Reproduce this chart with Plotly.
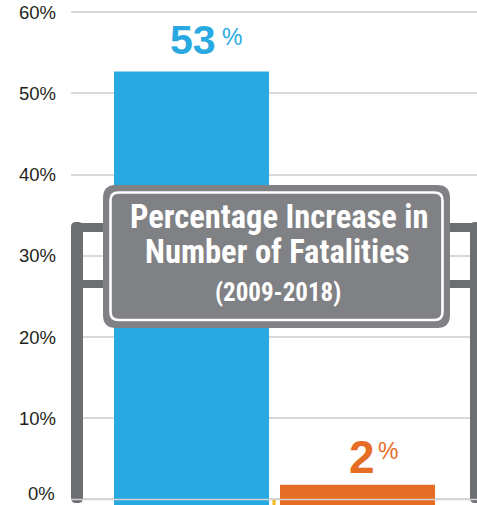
import plotly.graph_objects as go

# ---- data ----
categories = ["Pedestrian Fatalities", "All Other Traffic Fatalities"]
values = [52.7, 1.8]
value_labels = ["53", "2"]
bar_colors = ["#29a9e1", "#e56d24"]
y_ticks = [0, 10, 20, 30, 40, 50, 60]
sign_lines = ["Percentage Increase in", "Number of Fatalities", "(2009-2018)"]

# ---- geometry helpers (pixels -> paper) ----
FW, FH = 477, 505
ML, MR, MT, MB = 71, 0, 0, 0
PW, PH = FW - ML - MR, FH - MT - MB


def px(x):
    return (x - ML) / PW


def py(y):
    return 1 - (y - MT) / PH


def rrect_path(x0, y0, x1, y1, r):
    pts = [
        ("M", (x0 + r, y0)),
        ("L", (x1 - r, y0)),
        ("Q", (x1, y0), (x1, y0 + r)),
        ("L", (x1, y1 - r)),
        ("Q", (x1, y1), (x1 - r, y1)),
        ("L", (x0 + r, y1)),
        ("Q", (x0, y1), (x0, y1 - r)),
        ("L", (x0, y0 + r)),
        ("Q", (x0, y0), (x0 + r, y0)),
    ]
    s = []
    for p in pts:
        cmd = p[0]
        coords = " ".join(f"{px(a):.5f},{py(b):.5f}" for a, b in p[1:])
        s.append(f"{cmd}{coords}")
    return " ".join(s) + " Z"


BASE = -1.0
fig = go.Figure()
fig.add_trace(go.Bar(
    x=categories,
    y=[v - BASE for v in values],
    base=BASE,
    marker=dict(color=bar_colors, line=dict(width=0)),
    width=0.934,
    hoverinfo="skip",
))

shapes = []
POST = "#6d6e71"
SIGN = "#808184"
# rails (behind sign)
for (ya, yb) in [(223, 232), (280, 288)]:
    shapes.append(dict(type="rect", xref="paper", yref="paper",
                       x0=px(75), x1=px(480), y0=py(yb), y1=py(ya),
                       fillcolor=POST, line=dict(width=0), layer="above"))
# posts
shapes.append(dict(type="path", xref="paper", yref="paper",
                   path=rrect_path(71, 222, 83, 503, 5),
                   fillcolor=POST, line=dict(width=0), layer="above"))
shapes.append(dict(type="path", xref="paper", yref="paper",
                   path=rrect_path(470, 222, 482, 503, 5),
                   fillcolor=POST, line=dict(width=0), layer="above"))
# sign board
shapes.append(dict(type="path", xref="paper", yref="paper",
                   path=rrect_path(103, 185, 450, 328, 13),
                   fillcolor=SIGN, line=dict(width=0), layer="above"))
shapes.append(dict(type="path", xref="paper", yref="paper",
                   path=rrect_path(110.5, 192.5, 442.5, 320, 8),
                   fillcolor="rgba(0,0,0,0)", line=dict(color="white", width=2.6),
                   layer="above"))
# zero line across bars
shapes.append(dict(type="line", xref="paper", yref="y",
                   x0=0, x1=1, y0=0, y1=0,
                   line=dict(color="#d2d2d2", width=1.5), layer="above"))
# small tick between the bars at the baseline
shapes.append(dict(type="line", xref="paper", yref="paper",
                   x0=px(274), x1=px(274), y0=py(500), y1=py(505),
                   line=dict(color="#f2b81c", width=3), layer="above"))

annotations = []
# value labels
num_sizes = [41, 46]
num_xshift = [1.5, 4.5]
num_yshift = [6, 0]
pct_xshift = [28, 18.5]
pct_yshift = [19, 19]
for i, cat in enumerate(categories):
    annotations.append(dict(
        x=cat, y=values[i], xref="x", yref="y",
        text=f"<b>{value_labels[i]}</b>", showarrow=False,
        xanchor="center", yanchor="bottom", xshift=num_xshift[i], yshift=num_yshift[i],
        font=dict(family="Liberation Sans", size=num_sizes[i], color=bar_colors[i]),
    ))
    annotations.append(dict(
        x=cat, y=values[i], xref="x", yref="y",
        text="%", showarrow=False,
        xanchor="left", yanchor="bottom", xshift=pct_xshift[i],
        yshift=pct_yshift[i],
        font=dict(family="Liberation Sans", size=23, color=bar_colors[i]),
    ))

# the lowest tick label sits slightly raised so it fits inside the picture
annotations.append(dict(
    x=0, y=y_ticks[0], xref="paper", yref="y",
    text=f"{y_ticks[0]}%", showarrow=False,
    xanchor="right", yanchor="middle", xshift=-14, yshift=6,
    font=dict(family="Liberation Sans", size=18.5, color="#231f20"),
))

SIGN_FONT = "Roboto Condensed, Open Sans, Liberation Sans"
sign_specs = [(278.5, 217, 32.5), (277.5, 252, 32.5), (277.5, 292, 25)]
for line, (cx, cy, fs) in zip(sign_lines, sign_specs):
    annotations.append(dict(
        x=px(cx), y=py(cy), xref="paper", yref="paper",
        text=f"<b>{line}</b>", showarrow=False,
        xanchor="center", yanchor="middle",
        font=dict(family=SIGN_FONT, size=fs, color="white"),
    ))

fig.update_layout(
    width=FW, height=FH,
    margin=dict(l=ML, r=MR, t=MT, b=MB),
    paper_bgcolor="white", plot_bgcolor="white",
    showlegend=False,
    shapes=shapes,
    annotations=annotations,
    xaxis=dict(type="category", range=[-0.726, 1.72], showticklabels=False,
               showgrid=False, zeroline=False, showline=False, ticks=""),
    yaxis=dict(range=[-0.68, 61.5], tickvals=y_ticks,
               ticktext=["" if t == y_ticks[0] else f"{t}%" for t in y_ticks],
               showgrid=True, gridcolor="#d9d9d9", gridwidth=1.5,
               zeroline=False, showline=False, ticks="",
               ticklabelstandoff=14,
               tickfont=dict(family="Liberation Sans", size=18.5, color="#231f20")),
)

fig.write_html("out.html", config={"displayModeBar": False},
               post_script="document.body.style.margin='0';")
